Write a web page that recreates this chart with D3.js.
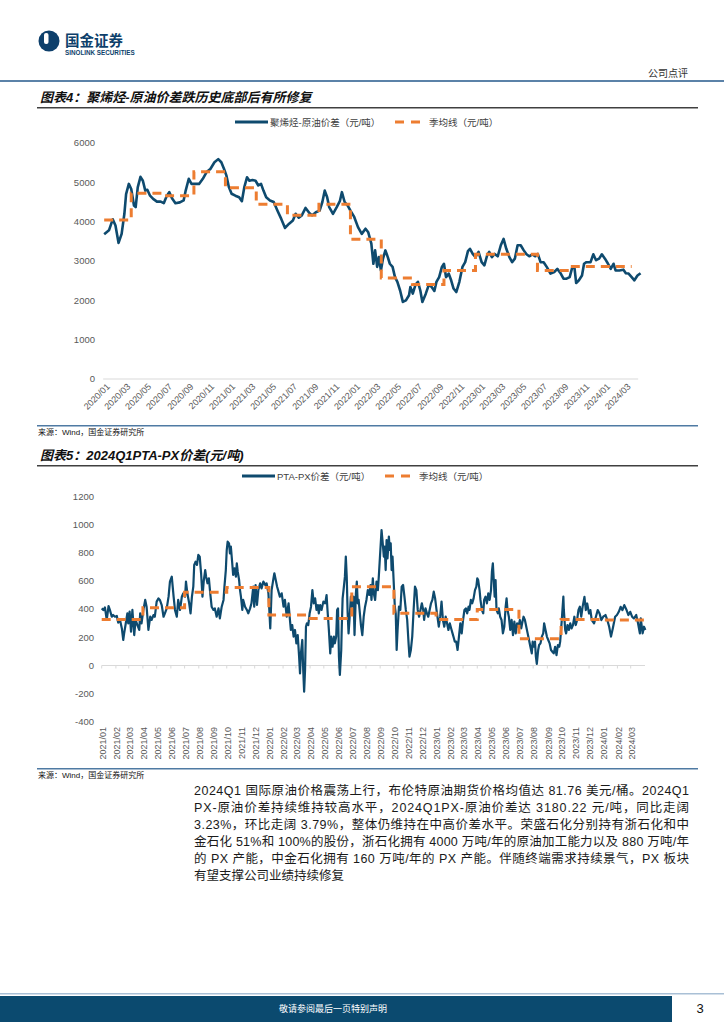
<!DOCTYPE html>
<html><head><meta charset="utf-8">
<script src="https://cdn.jsdelivr.net/npm/d3@7"></script>
<style>body{margin:0;background:#fff}svg{display:block}</style>
</head><body>
<svg id="page" width="724" height="1024"></svg>
<script>
// ---------- Chart 1: 聚烯烃-原油价差 (days since 2020-01-01) ----------
const c1Days = [
 -3,11,22,30,39,48,56,61,69,76,
 84,89,95,103,110,117,123,131,140,151,
 162,171,179,187,196,205,218,229,235,244,
 252,263,274,285,296,307,319,330,339,347,
 354,361,369,380,391,399,406,414,421,430,
 439,447,455,462,470,481,492,503,514,525,
 537,548,556,565,574,585,596,604,615,626,
 634,641,648,654,665,676,685,691,699,708,
 716,727,738,749,760,768,777,783,788,794,
 799,805,811,818,825,831,839,846,853,861,
 869,878,887,891,898,906,913,920,926,936,
 945,953,961,967,975,983,989,995,1003,1010,
 1017,1025,1034,1043,1051,1059,1065,1073,1081,1090,
 1099,1107,1115,1121,1129,1137,1146,1155,1163,1171,
 1180,1188,1196,1204,1213,1222,1230,1238,1247,1256,
 1263,1271,1280,1289,1300,1311,1320,1330,1338,1347,
 1356,1364,1370,1375,1383,1392,1398,1405,1417,1425,
 1433,1442,1450,1459,1468,1476,1484,1490,1501,1513,
 1520,1528,1537,1545,1554,1563];
const c1Vals = [
 3680,3780,4060,3900,3460,3690,4200,4700,4960,4830,
 4410,4370,4870,5140,5040,4790,4810,4660,4580,4510,
 4510,4470,4640,4750,4580,4470,4490,4540,4790,5090,
 4960,4960,4960,5090,5260,5340,5510,5590,5510,5340,
 5170,4880,4710,4660,4620,4520,4870,5130,5040,5060,
 5040,4920,4960,4790,4620,4540,4500,4280,4070,3840,
 3950,4030,4200,4100,4160,4350,4220,4160,4240,4280,
 4500,4790,4620,4370,4200,4370,4520,4750,4500,4410,
 4280,4120,3860,3690,3820,3730,3440,2930,3270,2850,
 3100,2760,3060,3270,3100,2930,2850,2590,2470,2250,
 1960,2000,2130,2340,2170,2400,2470,2250,1960,2170,
 2400,2340,2240,2470,2590,2850,2930,2590,2680,2510,
 2300,2210,2470,2850,2970,3250,3310,3180,3100,3230,
 2970,2890,3140,3230,3100,3180,3120,3400,3560,3310,
 3100,2970,3060,3400,3400,3270,3170,3120,3170,3120,
 3180,2970,2970,2850,2680,2720,2800,2680,2550,2550,
 2590,2850,2830,2440,2510,2630,2930,2970,2970,3170,
 3020,3060,3170,3060,2930,2800,2930,2760,2760,2780,
 2690,2680,2590,2510,2630,2690];
const c1QBreaks = [-3,76,168,259,351,441,532,624,716,806,897,989,1081,1171,1262,1354,1446,1537];
const c1QVals = [4040,4720,4660,5270,4860,4440,4160,4440,3550,2570,2400,2760,3170,3170,2760,2860,2860];
const c1XLabels = ["2020/01","2020/03","2020/05","2020/07","2020/09","2020/11","2021/01","2021/03","2021/05","2021/07","2021/09","2021/11","2022/01","2022/03","2022/05","2022/07","2022/09","2022/11","2023/01","2023/03","2023/05","2023/07","2023/09","2023/11","2024/01","2024/03"];
const c1YTicks = [0,1000,2000,3000,4000,5000,6000];

// ---------- Chart 2: PTA-PX价差 (days since 2021-01-01) ----------
const c2Days = [
 0,4,7,11,15,18,22,25,29,33, 36,40,44,47,49,52,56,58,61,64,
 67,71,74,78,82,84,87,91,95,98, 102,106,109,113,116,120,124,127,131,135,
 138,142,146,149,153,157,160,164,167,171, 175,178,182,184,187,191,194,197,200,202,
 205,208,211,214,217,220,223,226,228,231, 234,237,240,244,247,
 251,255,258,262,266,268,271,273,275,278, 280,282,285,287,290,293,295,297,300,302,
 304,307,309,313,317,320,324,327,331,333, 336,339,342,346,349,353,357,360,364,366,
 368,371,375,377,380,383,386,389,393,397, 400,404,408,411,413,416,419,422,425,428,
 431,433,435,438,440,442,444,446,448,451, 454,457,460,463,466,469,472,474,477,480,
 484,488,491,493,496,499,501,504,507,509,
 512,514,516,518,520,523,524,526,528,531, 533,535,537,539,541,544,546,548,550,552,
 555,557,559,561,563,566,569,572,575,578, 581,584,587,589,592,594,597,600,603,605,
 608,611,613,616,618,620,622,624,627,629, 631,633,635,638,640,642,644,646,649,652,
 655,658,661,664,667,670,672,675,678,681, 684,687,690,693,696,699,702,704,707,710,
 713,716,719,722,725,728,731,734,736,739, 742,745,748,751,754,757,760,763,766,769,
 771,
 774,777,780,783,786,789,792,795,798,801, 803,806,809,812,815,818,820,822,825,827,
 830,833,835,838,841,844,847,850,852,854, 856,858,860,862,865,867,870,873,876,879,
 882,884,886,889,892,895,898,901,904,907, 910,913,916,918,921,924,927,930,933,936,
 939,941,943,946,948,950,953,955,958,961, 964,966,969,972,975,978,981,984,987,990,
 993,996,999,1001,1004,1006,1008,1009,1012,1014, 1017,1020,1023,1026,1029,1032,1035,1038,1041,1044,
 1047,1050,1054,1057,1060,1064,1067,1070,1075,1079, 1083,1087,1091,1095,1100,1104,1108,1112,1116,1121,
 1125,1129,1133,1137,1141,1146,1150,1154,1158,1162, 1167,1171,1175,1177,1181,1184,1187];
const c2Vals = [
 405,393,412,323,422,393,346,358,346,351, 304,323,263,181,228,287,370,299,382,240,
 394,216,323,287,252,370,299,394,465,417, 252,346,323,358,346,453,476,465,429,346,
 370,405,488,595,630,488,394,346,465,394, 488,512,488,595,512,441,370,488,559,713,
 736,713,784,772,654,488,606,677,630,583, 618,512,417,394,405,
 346,405,334,417,465,559,677,819,878,866, 795,843,725,642,689,630,725,665,606,535,
 488,394,465,417,394,370,405,441,559,417, 571,429,535,583,547,595,571,583,512,394,
 263,535,618,654,606,559,524,488,512,417, 465,346,441,323,252,287,205,252,157,216,
 63,-56,86,181,-32,-186,-32,275,299,287, 370,417,535,441,476,394,429,370,429,394,
 453,441,500,394,252,86,205,133,205,157,
 205,394,405,63,-67,110,252,476,535,630, 772,630,370,228,323,488,417,465,488,216,
 512,595,441,465,394,287,216,346,417,465, 535,500,571,465,618,512,465,595,535,630,
 795,961,890,772,843,677,890,760,914,819, 866,677,772,559,417,370,110,252,417,394,
 559,571,488,394,323,157,63,110,205,394, 559,535,394,346,394,441,394,323,405,370,
 346,394,441,465,524,476,394,323,275,346, 453,323,275,346,299,252,299,263,228,193,
 169,
 169,110,205,299,228,323,394,405,370,417, 394,465,441,476,535,559,618,606,535,465,
 394,370,465,488,441,512,465,535,665,725, 606,488,606,394,370,405,346,323,228,275,
 417,476,394,346,252,323,216,311,228,299, 275,323,263,299,346,323,275,228,181,133,
 86,169,133,169,63,11,110,145,157,205, 228,299,252,205,181,157,110,98,86,133,
 74,145,133,169,299,394,488,394,252,228, 287,252,299,263,287,346,287,323,394,417,
 346,416,487,393,440,369,393,322,299,346, 393,369,322,346,358,322,275,205,264,346,
 358,381,416,393,428,393,358,381,346,334, 358,299,228,334,228,275,252];
const c2QBreaks = [0,90,181,273,365,455,546,638,730,820,911,1003,1095,1186];
const c2QVals = [327,410,519,554,358,334,559,370,327,398,190,327,322];
const c2XLabels = ["2021/01","2021/02","2021/03","2021/04","2021/05","2021/06","2021/07","2021/08","2021/09","2021/10","2021/11","2021/12","2022/01","2022/02","2022/03","2022/04","2022/05","2022/06","2022/07","2022/08","2022/09","2022/10","2022/11","2022/12","2023/01","2023/02","2023/03","2023/04","2023/05","2023/06","2023/07","2023/08","2023/09","2023/10","2023/11","2023/12","2024/01","2024/02","2024/03"];
const c2YTicks = [-400,-200,0,200,400,600,800,1000,1200];

const paraLines = [
 "2024Q1 国际原油价格震荡上行，布伦特原油期货价格均值达 81.76 美元/桶。2024Q1",
 "PX-原油价差持续维持较高水平，2024Q1PX-原油价差达 3180.22 元/吨，同比走阔",
 "3.23%，环比走阔 3.79%，整体仍维持在中高价差水平。荣盛石化分别持有浙石化和中",
 "金石化 51%和 100%的股份，浙石化拥有 4000 万吨/年的原油加工能力以及 880 万吨/年",
 "的 PX 产能，中金石化拥有 160 万吨/年的 PX 产能。伴随终端需求持续景气，PX 板块",
 "有望支撑公司业绩持续修复"];

// ---------- drawing ----------
const svg = d3.select("#page");
const LAT = "'Liberation Sans', Arial, 'Noto Sans CJK SC', sans-serif";
const CJK = "'Noto Sans CJK SC', sans-serif";
const BLUE = "#0e4a6e", ORANGE = "#ed7d31", AXC = "#595959";
const parseM = d3.timeParse("%Y/%m");

// header
svg.append("circle").attr("cx",49).attr("cy",41).attr("r",10.5).attr("fill","#0d3f6b");
svg.append("rect").attr("x",44).attr("y",33).attr("width",4.5).attr("height",11).attr("rx",2).attr("fill","#fff");
svg.append("text").attr("x",65).attr("y",46).attr("font-family",CJK).attr("font-weight","bold")
  .attr("font-size",14.5).attr("fill","#0d3f6b").text("国金证券");
svg.append("text").attr("x",65).attr("y",55).attr("font-family",LAT).attr("font-weight","bold")
  .attr("font-size",6.3).attr("fill","#0d3f6b").text("SINOLINK SECURITIES");
svg.append("text").attr("x",688).attr("y",77).attr("text-anchor","end").attr("font-family",CJK)
  .attr("font-size",10).attr("fill","#333").text("公司点评");
svg.append("rect").attr("x",0).attr("y",80).attr("width",724).attr("height",2).attr("fill","#5b82a8");

function title(y, txt){
  svg.append("text").attr("x",40).attr("y",y).attr("font-family",LAT).attr("font-weight","bold")
    .attr("font-style","italic").attr("font-size",13).attr("fill","#111").text(txt);
  svg.append("rect").attr("x",37).attr("y",y+5).attr("width",661).attr("height",1.5).attr("fill","#404040");
}
function source(y){
  svg.append("rect").attr("x",37).attr("y",y).attr("width",661).attr("height",1.5).attr("fill","#4f7aa3");
  svg.append("text").attr("x",38).attr("y",y+10).attr("font-family",LAT).attr("font-size",8)
    .attr("fill","#111").text("来源：Wind，国金证券研究所");
}
function legend(y, x0, name1, x2){
  svg.append("line").attr("x1",x0).attr("x2",x0+33).attr("y1",y).attr("y2",y)
    .attr("stroke",BLUE).attr("stroke-width",3);
  svg.append("text").attr("x",x0+35).attr("y",y+3.5).attr("font-family",LAT).attr("font-size",9.5)
    .attr("fill","#404040").text(name1);
  svg.append("line").attr("x1",x2).attr("x2",x2+25).attr("y1",y).attr("y2",y)
    .attr("stroke",ORANGE).attr("stroke-width",3).attr("stroke-dasharray","9,7");
  svg.append("text").attr("x",x2+34).attr("y",y+3.5).attr("font-family",LAT).attr("font-size",9.5)
    .attr("fill","#404040").text("季均线（元/吨）");
}

// ----- chart 1 -----
title(102, "图表4：聚烯烃-原油价差跌历史底部后有所修复");
legend(122, 235, "聚烯烃-原油价差（元/吨）", 395);
const base1 = new Date(2020,0,1);
const x1 = d3.scaleTime().domain([base1, new Date(2024,3,1)]).range([105.2, 636.8]);
const y1 = d3.scaleLinear().domain([0,6000]).range([379,143]);
const g1 = svg.append("g");
g1.append("line").attr("x1",x1(d3.timeDay.offset(base1,-6))).attr("x2",x1(new Date(2024,3,5)))
  .attr("y1",y1(0)).attr("y2",y1(0)).attr("stroke","#d9d9d9").attr("stroke-width",1);
g1.selectAll(".yl").data(c1YTicks).join("text").attr("x",95).attr("y",d=>y1(d)+3.3)
  .attr("text-anchor","end").attr("font-family",LAT).attr("font-size",9.5).attr("fill",AXC).text(d=>d);
g1.selectAll(".xl").data(c1XLabels).join("text")
  .attr("transform",d=>`translate(${x1(parseM(d))+3},${385}) rotate(-45)`)
  .attr("text-anchor","end").attr("dy","0.35em").attr("font-family",LAT).attr("font-size",9)
  .attr("fill",AXC).text(d=>d);
const p1 = d3.zip(c1Days, c1Vals).map(([d,v])=>[d3.timeDay.offset(base1,d), v]);
g1.append("path").attr("d", d3.line().x(d=>x1(d[0])).y(d=>y1(d[1]))(p1))
  .attr("fill","none").attr("stroke",BLUE).attr("stroke-width",2.6).attr("stroke-linejoin","round");
const q1 = c1QBreaks.map((b,i)=>[d3.timeDay.offset(base1,b), c1QVals[Math.min(i,c1QVals.length-1)]]);
g1.append("path").attr("d", d3.line().curve(d3.curveStepAfter).x(d=>x1(d[0])).y(d=>y1(d[1]))(q1))
  .attr("fill","none").attr("stroke",ORANGE).attr("stroke-width",3).attr("stroke-dasharray","9,6");
source(425);

// ----- chart 2 -----
title(460, "图表5：2024Q1PTA-PX价差(元/吨)");
legend(476, 242, "PTA-PX价差（元/吨）", 385);
const base2 = new Date(2021,0,1);
const x2 = d3.scaleTime().domain([base2, new Date(2024,3,1)]).range([101.7, 644.9]);
const y2 = d3.scaleLinear().domain([-400,1200]).range([721.9,496.3]);
const g2 = svg.append("g");
g2.append("line").attr("x1",101.7).attr("x2",645).attr("y1",y2(0)).attr("y2",y2(0))
  .attr("stroke","#d9d9d9").attr("stroke-width",1);
g2.selectAll(".tk").data(c2XLabels).join("line")
  .attr("x1",d=>x2(parseM(d))).attr("x2",d=>x2(parseM(d))).attr("y1",y2(0)).attr("y2",y2(0)+3)
  .attr("stroke","#d9d9d9");
g2.selectAll(".yl").data(c2YTicks).join("text").attr("x",94).attr("y",d=>y2(d)+3.3)
  .attr("text-anchor","end").attr("font-family",LAT).attr("font-size",9.5).attr("fill",AXC).text(d=>d);
g2.selectAll(".xl").data(c2XLabels).join("text")
  .attr("transform",d=>`translate(${x2(parseM(d))+1},${727}) rotate(-90)`)
  .attr("text-anchor","end").attr("dy","0.35em").attr("font-family",LAT).attr("font-size",9)
  .attr("fill",AXC).text(d=>d);
const p2 = d3.zip(c2Days, c2Vals).map(([d,v])=>[d3.timeDay.offset(base2,d), v]);
g2.append("path").attr("d", d3.line().x(d=>x2(d[0])).y(d=>y2(d[1]))(p2))
  .attr("fill","none").attr("stroke",BLUE).attr("stroke-width",2.2).attr("stroke-linejoin","round");
const q2 = c2QBreaks.map((b,i)=>[d3.timeDay.offset(base2,b), c2QVals[Math.min(i,c2QVals.length-1)]]);
g2.append("path").attr("d", d3.line().curve(d3.curveStepAfter).x(d=>x2(d[0])).y(d=>y2(d[1]))(q2))
  .attr("fill","none").attr("stroke",ORANGE).attr("stroke-width",3).attr("stroke-dasharray","9,6");
source(768);

// ----- paragraph -----
paraLines.forEach((t,i)=>{
  const tx = svg.append("text").attr("x",194).attr("y",794.5+i*17).attr("font-family",LAT)
    .attr("font-size",12.5).attr("fill","#1a1a1a").text(t);
  if (i < paraLines.length-1) tx.attr("textLength",495).attr("lengthAdjust","spacing");
});

// ----- footer -----
svg.append("rect").attr("x",0).attr("y",993).attr("width",724).attr("height",1.5).attr("fill","#a9c0d6");
svg.append("rect").attr("x",0).attr("y",996).attr("width",672).attr("height",26).attr("fill","#0b4a6f");
svg.append("text").attr("x",333).attr("y",1012).attr("text-anchor","middle").attr("font-family",CJK)
  .attr("font-size",9).attr("fill","#fff").text("敬请参阅最后一页特别声明");
svg.append("text").attr("x",700).attr("y",1013).attr("text-anchor","middle").attr("font-family",LAT)
  .attr("font-size",13).attr("fill","#111").text("3");
</script>
</body></html>
